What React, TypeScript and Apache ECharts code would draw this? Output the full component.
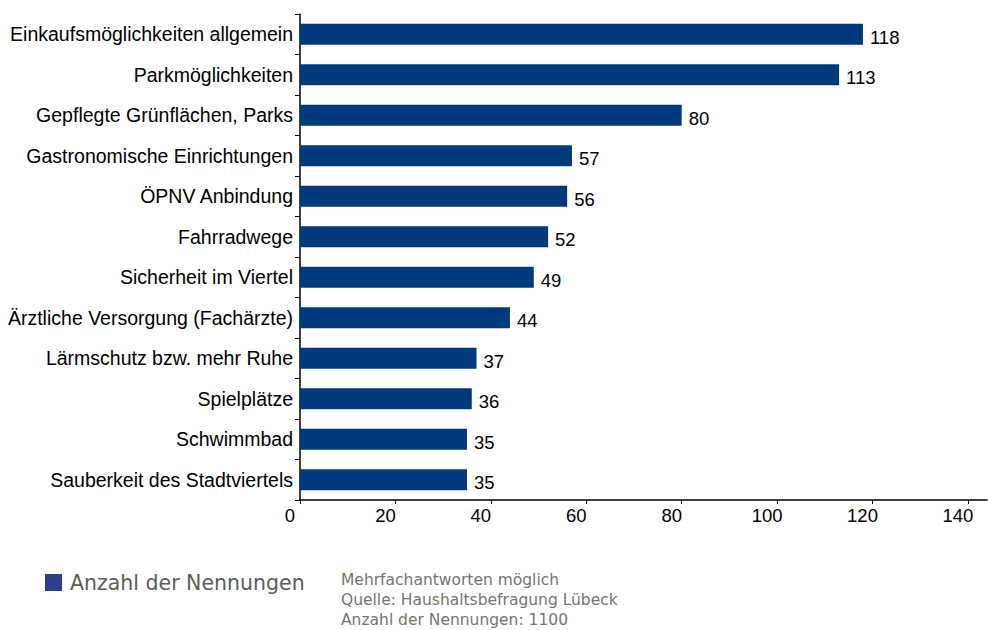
import React, { useEffect, useRef } from "react";
import * as echarts from "echarts";

const categories = [
  "Einkaufsmöglichkeiten allgemein",
  "Parkmöglichkeiten",
  "Gepflegte Grünflächen, Parks",
  "Gastronomische Einrichtungen",
  "ÖPNV Anbindung",
  "Fahrradwege",
  "Sicherheit im Viertel",
  "Ärztliche Versorgung (Fachärzte)",
  "Lärmschutz bzw. mehr Ruhe",
  "Spielplätze",
  "Schwimmbad",
  "Sauberkeit des Stadtviertels",
];
const values = [118, 113, 80, 57, 56, 52, 49, 44, 37, 36, 35, 35];
const xTicks = [0, 20, 40, 60, 80, 100, 120, 140];
const seriesName = "Anzahl der Nennungen";
const notes = [
  "Mehrfachantworten möglich",
  "Quelle: Haushaltsbefragung Lübeck",
  "Anzahl der Nennungen: 1100",
];

export default function App() {
  const ref = useRef<HTMLDivElement>(null);
  useEffect(() => {
    const chart = echarts.init(ref.current!, null, { renderer: "svg" });
    chart.setOption({
      animation: false,
      grid: { left: 300, right: 1, top: 14, bottom: 130, containLabel: false },
      legend: {
        left: 40,
        top: 567,
        icon: "rect",
        itemWidth: 17,
        itemHeight: 17,
        itemGap: 10,
        data: [{ name: seriesName, itemStyle: { color: "#2b3f8e" } }],
        textStyle: { fontFamily: "DejaVu Sans", fontSize: 20.5, color: "#5d5d52", padding: [0, 0, 0, 3] },
      },
      xAxis: {
        type: "value",
        min: 0,
        max: 144,
        interval: 20,
        axisLine: { show: true, lineStyle: { color: "#000", width: 1.5 } },
        axisTick: { show: true, length: 4, lineStyle: { color: "#000" }, customValues: xTicks },
        splitLine: { show: false },
        axisLabel: {
          customValues: xTicks,
          color: "#000",
          fontFamily: "Liberation Sans",
          fontSize: 18.5,
          margin: 6,
          padding: [0, 20, 0, 0],
        },
      },
      yAxis: {
        type: "category",
        inverse: true,
        data: categories,
        axisLine: { show: true, lineStyle: { color: "#000", width: 1.5 } },
        axisTick: { show: true, length: 5, lineStyle: { color: "#000" } },
        axisLabel: {
          color: "#000",
          fontFamily: "Liberation Sans",
          fontSize: 19.5,
          margin: 7,
        },
      },
      series: [
        {
          name: seriesName,
          type: "bar",
          data: values,
          barWidth: 21,
          itemStyle: { color: "#003a7d" },
          label: {
            show: true,
            position: "right",
            distance: 7,
            offset: [0, 3],
            color: "#000",
            fontFamily: "Liberation Sans",
            fontSize: 18.5,
          },
        },
      ],
      graphic: notes.map((t, i) => ({
        type: "text",
        left: 341,
        top: 572 + i * 20,
        style: { text: t, fill: "#76766e", font: "15.5px 'DejaVu Sans'" },
      })),
    });
    return () => chart.dispose();
  }, []);
  return <div ref={ref} style={{ width: 988, height: 630, position: "absolute", left: 0, top: 0 }} />;
}
